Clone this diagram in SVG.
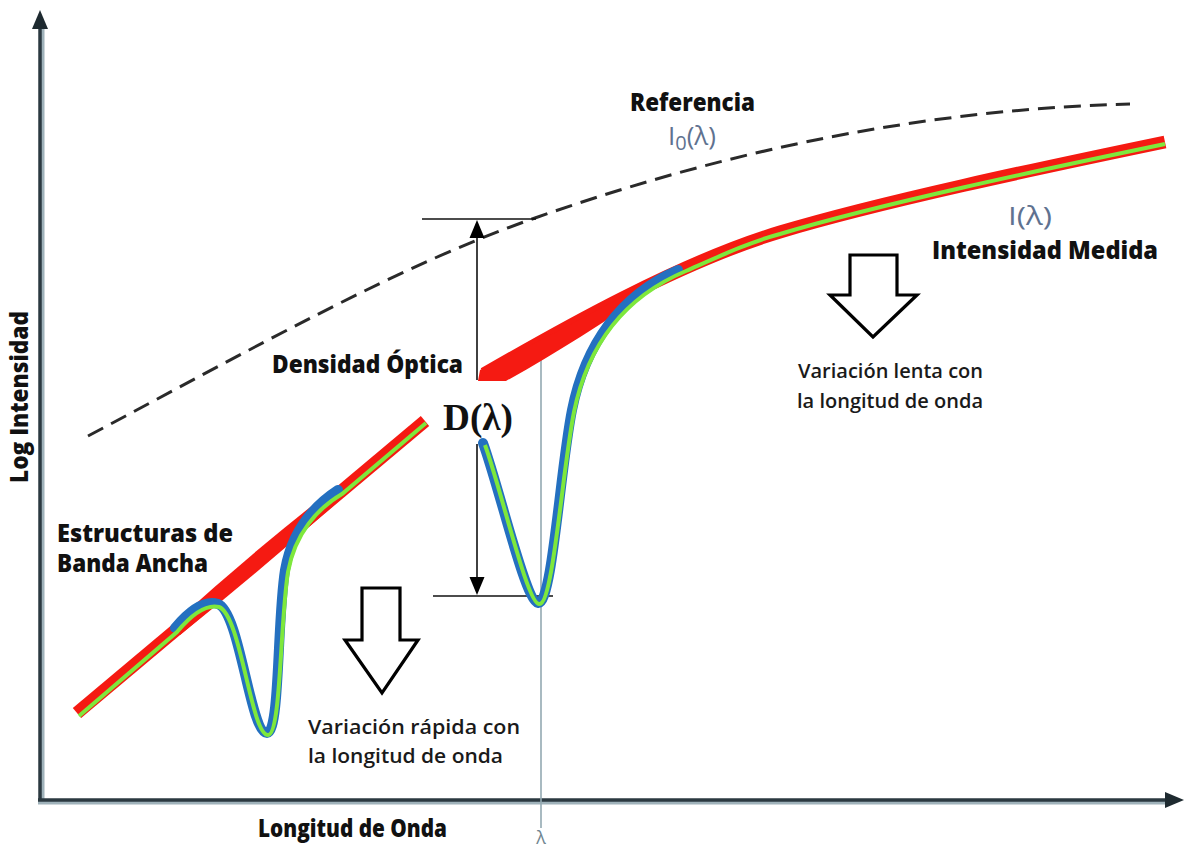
<svg xmlns="http://www.w3.org/2000/svg" width="1186" height="847" viewBox="0 0 1186 847">
<style>
.lbl{font-family:"Open Sans","Liberation Sans",sans-serif;font-weight:800;font-size:24px;fill:#111}
.reg{font-family:"Open Sans","Liberation Sans",sans-serif;font-weight:600;font-size:20px;fill:#1a1a1a}
.sym{font-family:"Open Sans","Liberation Sans",sans-serif;font-weight:400;font-size:26px;fill:#5f7290}
.red{fill:none;stroke:#f51a12}
.blue{fill:none;stroke:#2470c0;stroke-width:10;stroke-linecap:round}
.green{fill:none;stroke:#7ee83c;stroke-width:4}
.blk{stroke:#111;stroke-width:1.6;fill:none}
.hollow{fill:#fff;stroke:#000;stroke-width:3.2;stroke-linejoin:miter}
</style>
<rect width="1186" height="847" fill="#fff"/>

<!-- axes -->
<g id="axes">
<line x1="42" y1="803" x2="42" y2="26" stroke="#9fb2ba" stroke-width="5"/>
<line x1="40" y1="801" x2="40" y2="26" stroke="#2b3940" stroke-width="3.5"/>
<polygon points="40,10 32,29 48,29" fill="#1e2a30"/>
<line x1="38" y1="802" x2="1168" y2="802" stroke="#9fb2ba" stroke-width="5"/>
<line x1="38" y1="800" x2="1168" y2="800" stroke="#2b3940" stroke-width="3.5"/>
<polygon points="1184,800 1165,792 1165,808" fill="#1e2a30"/>
</g>

<!-- lambda line -->
<line x1="541" y1="357" x2="541" y2="828" stroke="#93a9b2" stroke-width="1.6"/>

<!-- reference dashed curve -->
<path d="M88,436 C250,350 400,265 535,218 C700,160 900,110 1130,104" fill="none" stroke="#2a2a2a" stroke-width="3" stroke-dasharray="17,9"/>

<!-- D(lambda) dimension -->
<g id="dimension">
<line class="blk" x1="422" y1="219" x2="536" y2="219"/>
<line class="blk" x1="433" y1="596" x2="553" y2="596"/>
<line class="blk" x1="477" y1="232" x2="477" y2="380"/>
<line class="blk" x1="477" y1="444" x2="477" y2="584"/>
<polygon points="477,220 469.5,238 484.5,238" fill="#000"/>
<polygon points="477,595 469.5,577 484.5,577" fill="#000"/>
</g>

<!-- lower measured curve -->
<g id="lower-curve">
<line class="red" x1="77" y1="713" x2="425" y2="421" stroke-width="13"/>
<path d="M173,624 Q252,552 337,486 L343,497 Q266,566 180,635 Z" fill="#f51a12"/>
<path class="blue" d="M175,628 C190,610 205,600 218,604 C240,612 250,733 267,733 C280,733 277,620 285,570 C292,530 315,505 338,490"/>
<path class="green" d="M79,716 L177,632 C192,614 206,604 219,607 C241,615 251,735 268,735 C281,735 280,622 288,572 C295,533 318,508 342,494 L426,423"/>
</g>

<!-- upper measured curve -->
<g id="upper-curve">
<path class="red" d="M484,374 C560,330 680,262 780,232 C880,202 1040,168 1165,142" stroke-width="13"/>
<path d="M478,381 L506,381 C555,354 605,322 648,292 L678,266 C620,298 540,342 480,370 Z" fill="#f51a12"/>
<path class="blue" d="M483,443 C500,490 525,600 538,603 C552,606 560,470 572,410 C585,345 620,295 678,270"/>
<path class="green" d="M485,445 C502,492 527,603 539,604 C553,606 562,472 574,412 C587,348 622,298 686,271 C720,256 750,242 780,234 C880,204 1040,170 1165,144"/>
</g>

<!-- hollow arrows -->
<polygon class="hollow" points="362,588 400,588 400,640 418,640 382,693 345,640 362,640"/>
<polygon class="hollow" points="850,255 897,255 897,295 917,295 873,337 830,295 850,295"/>

<!-- labels -->
<g id="labels">
<text class="lbl" x="630" y="111" textLength="125" lengthAdjust="spacingAndGlyphs">Referencia</text>
<text class="sym" x="668" y="145">I<tspan font-size="20" dy="5">0</tspan><tspan dy="-5">(λ)</tspan></text>
<text class="sym" x="1008" y="225" textLength="44" lengthAdjust="spacingAndGlyphs">I(λ)</text>
<text class="lbl" x="932" y="259" textLength="226" lengthAdjust="spacingAndGlyphs">Intensidad Medida</text>
<text class="reg" x="798" y="378" textLength="185" lengthAdjust="spacingAndGlyphs">Variación lenta con</text>
<text class="reg" x="797" y="408" textLength="186" lengthAdjust="spacingAndGlyphs">la longitud de onda</text>
<text class="reg" x="308" y="734" textLength="212" lengthAdjust="spacingAndGlyphs">Variación rápida con</text>
<text class="reg" x="308" y="763" textLength="195" lengthAdjust="spacingAndGlyphs">la longitud de onda</text>
<text class="lbl" x="57" y="542" textLength="176" lengthAdjust="spacingAndGlyphs">Estructuras de</text>
<text class="lbl" x="57" y="572" textLength="151" lengthAdjust="spacingAndGlyphs">Banda Ancha</text>
<text class="lbl" x="272" y="373" textLength="191" lengthAdjust="spacingAndGlyphs">Densidad Óptica</text>
<text x="443" y="430" font-family="'Liberation Serif',serif" font-weight="700" font-size="37" fill="#111" textLength="70" lengthAdjust="spacingAndGlyphs">D(λ)</text>
<text class="lbl" x="258" y="837" textLength="189" lengthAdjust="spacingAndGlyphs">Longitud de Onda</text>
<text class="lbl" transform="translate(28,483) rotate(-90)" x="0" y="0" font-size="21" textLength="172" lengthAdjust="spacingAndGlyphs">Log Intensidad</text>
<text x="541" y="844" text-anchor="middle" font-family="'Open Sans','Liberation Sans',sans-serif" font-size="18" fill="#6f8590">λ</text>
</g>
</svg>
